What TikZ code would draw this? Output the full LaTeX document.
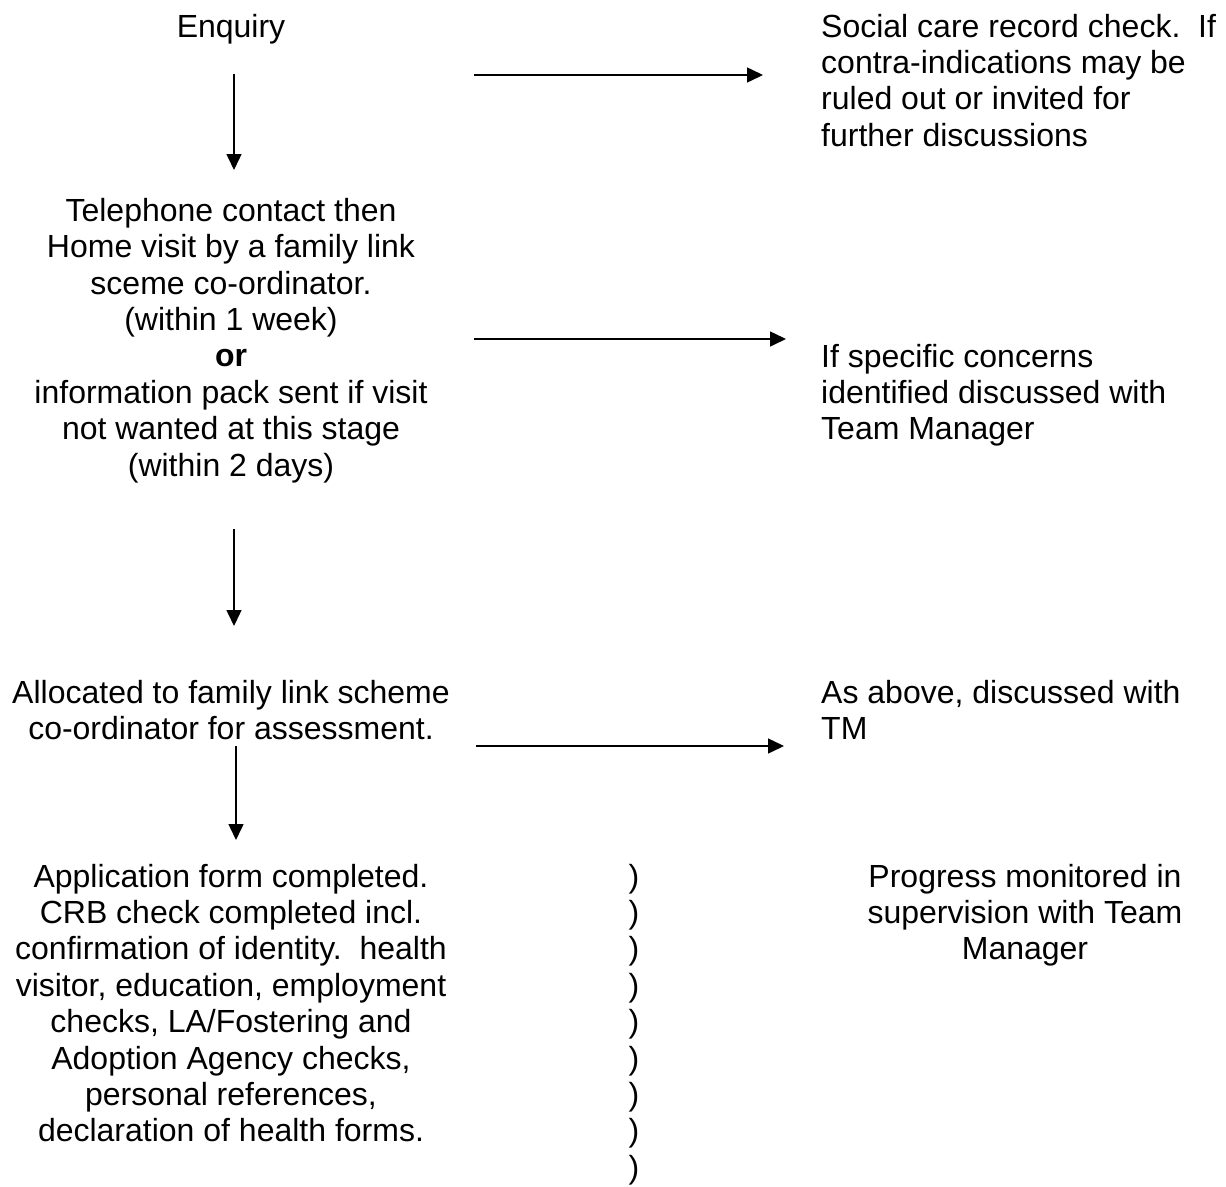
\documentclass[tikz,border=0pt]{standalone}
\usepackage{fontspec}
\setmainfont{Liberation Sans}
\usetikzlibrary{arrows.meta}
\frenchspacing
\begin{document}
\begin{tikzpicture}[x=1pt,y=-1pt,
  txt/.style={inner sep=0pt, font=\fontsize{32}{36.4}\selectfont, align=center, anchor=base},
  rtxt/.style={txt, align=left, anchor=base west},
  arr/.style={-{Triangle[length=16pt,width=15pt]}, line width=1.5pt}]
\useasboundingbox (0,0) rectangle (1226,1186);
% left column (base anchor = baseline of the last line)
\node[txt] (enq) at (231,37) {Enquiry};
\node[txt] (tel) at (231,476) {Telephone contact then\\Home visit by a family link\\sceme co-ordinator.\\(within 1 week)\\\textbf{or}\\information pack sent if visit\\not wanted at this stage\\(within 2 days)};
\node[txt] (alloc) at (231,739.4) {Allocated to family link scheme\\co-ordinator for assessment.};
\node[txt] (app) at (231,1141.8) {Application form completed.\\CRB check completed incl.\\confirmation of identity.\ \ health\\visitor, education, employment\\checks, LA/Fostering and\\Adoption Agency checks,\\personal references,\\declaration of health forms.};
% parentheses column
\node[txt] (par) at (634,1178.2) {)\\)\\)\\)\\)\\)\\)\\)\\)};
% right column
\node[rtxt] (soc) at (821,146.2) {Social care record check.\ \ If\\contra-indications may be\\ruled out or invited for\\further discussions};
\node[rtxt] (spec) at (821,439.8) {If specific concerns\\identified discussed with\\Team Manager};
\node[rtxt] (asab) at (821,739.4) {As above, discussed with\\TM};
\node[txt] (prog) at (1025,959.8) {Progress monitored in\\supervision with Team\\Manager};
% vertical arrows
\draw[arr] ([xshift=3pt,yshift=-37pt]enq.base) -- ([xshift=3pt,yshift=306pt]tel.base);
\draw[arr] ([xshift=3pt,yshift=-53pt]tel.base) -- ([xshift=3pt,yshift=113.4pt]alloc.base);
\draw[arr] ([xshift=5pt,yshift=-6.6pt]alloc.base) -- ([xshift=5pt,yshift=301.8pt]app.base);
% horizontal arrows
\draw[arr] ([xshift=243pt,yshift=-38pt]enq.base) -- ([xshift=-58pt,yshift=71.2pt]soc.base west);
\draw[arr] ([xshift=243pt,yshift=137pt]tel.base) -- ([xshift=-35pt,yshift=100.8pt]spec.base west);
\draw[arr] ([xshift=245pt,yshift=-6.6pt]alloc.base) -- ([xshift=-37pt,yshift=-6.6pt]asab.base west);
\end{tikzpicture}
\end{document}
